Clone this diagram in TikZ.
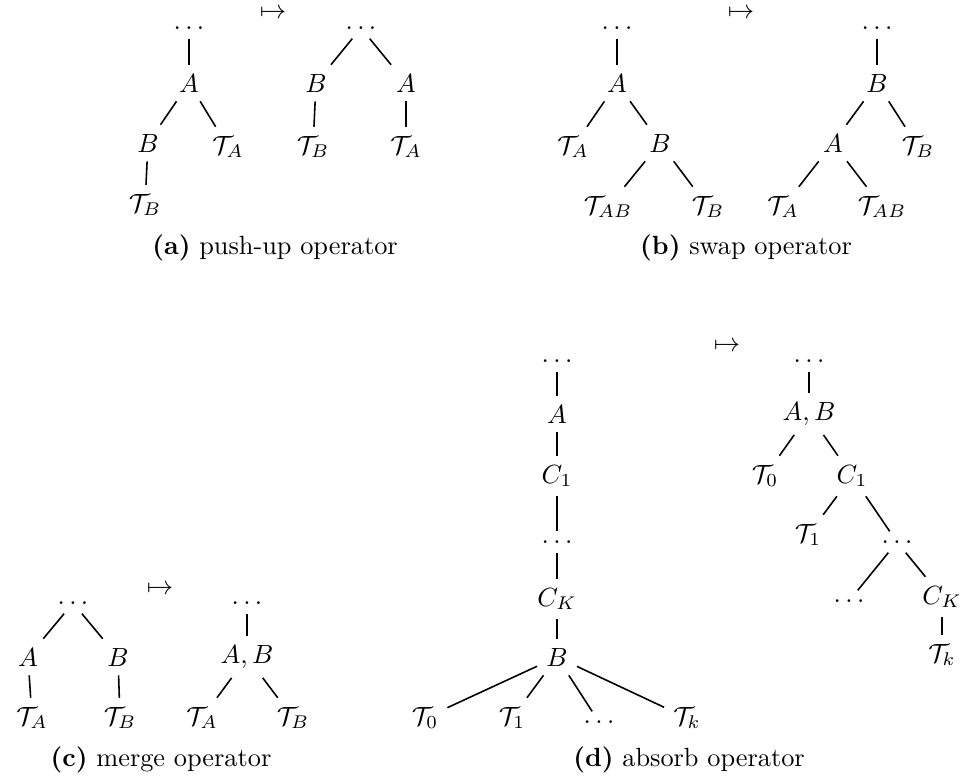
\documentclass[tikz,border=0pt]{standalone}
\tikzset{
  tn/.style={inner sep=0.3333em},
  edge/.style={line width=0.6pt},
  maparrow/.style={anchor=base, inner sep=0pt},
  captext/.style={anchor=base, inner sep=0pt}
}
\begin{document}
\begin{tikzpicture}[x=0.38pt,y=-0.38pt]
\useasboundingbox (0,0) rectangle (965,780);
% ---------- (a) push-up ----------
\node[tn] (a1) at (189,28) {$\ldots$};
\node[tn] (a2) at (189,83) {$A$};
\node[tn] (a3) at (148,143) {$B$};
\node[tn] (a4) at (228,147) {$\mathcal{T}_A$};
\node[tn] (a5) at (145,205) {$\mathcal{T}_B$};
\draw[edge] (a1) -- (a2);
\draw[edge] (a2) -- (a3);
\draw[edge] (a2) -- (a4);
\draw[edge] (a3) -- (a5);
\node[maparrow] (amap) at (273,18) {$\mapsto$};
\node[tn] (ar1) at (361,28) {$\ldots$};
\node[tn] (ar2) at (316,83) {$B$};
\node[tn] (ar3) at (406,83) {$A$};
\node[tn] (ar4) at (313,147) {$\mathcal{T}_B$};
\node[tn] (ar5) at (406,147) {$\mathcal{T}_A$};
\draw[edge] (ar1) -- (ar2);
\draw[edge] (ar1) -- (ar3);
\draw[edge] (ar2) -- (ar4);
\draw[edge] (ar3) -- (ar5);
\node[captext] (capa) at (275,254) {\textbf{(a)}~push-up operator};
% ---------- (b) swap ----------
\node[tn] (bl1) at (617,28) {$\ldots$};
\node[tn] (bl2) at (617,83) {$A$};
\node[tn] (bl3) at (573,147) {$\mathcal{T}_A$};
\node[tn] (bl4) at (660,143) {$B$};
\node[tn] (bl5) at (608,207) {$\mathcal{T}_{AB}$};
\node[tn] (bl6) at (708,207) {$\mathcal{T}_B$};
\draw[edge] (bl1) -- (bl2);
\draw[edge] (bl2) -- (bl3);
\draw[edge] (bl2) -- (bl4);
\draw[edge] (bl4) -- (bl5);
\draw[edge] (bl4) -- (bl6);
\node[maparrow] (bmap) at (741,18) {$\mapsto$};
\node[tn] (br1) at (877,28) {$\ldots$};
\node[tn] (br2) at (877,83) {$B$};
\node[tn] (br3) at (833,143) {$A$};
\node[tn] (br4) at (918,147) {$\mathcal{T}_B$};
\node[tn] (br5) at (783,207) {$\mathcal{T}_A$};
\node[tn] (br6) at (882,207) {$\mathcal{T}_{AB}$};
\draw[edge] (br1) -- (br2);
\draw[edge] (br2) -- (br3);
\draw[edge] (br2) -- (br4);
\draw[edge] (br3) -- (br5);
\draw[edge] (br3) -- (br6);
\node[captext] (capb) at (746,254) {\textbf{(b)}~swap operator};
% ---------- (c) merge ----------
\node[tn] (cl1) at (73,603) {$\ldots$};
\node[tn] (cl2) at (28,657) {$A$};
\node[tn] (cl3) at (118,657) {$B$};
\node[tn] (cl4) at (32,718) {$\mathcal{T}_A$};
\node[tn] (cl5) at (120,718) {$\mathcal{T}_B$};
\draw[edge] (cl1) -- (cl2);
\draw[edge] (cl1) -- (cl3);
\draw[edge] (cl2) -- (cl4);
\draw[edge] (cl3) -- (cl5);
\node[maparrow] (cmap) at (160,594) {$\mapsto$};
\node[tn] (cr1) at (247,603) {$\ldots$};
\node[tn] (cr2) at (247,657) {$A,B$};
\node[tn] (cr3) at (202,718) {$\mathcal{T}_A$};
\node[tn] (cr4) at (293,718) {$\mathcal{T}_B$};
\draw[edge] (cr1) -- (cr2);
\draw[edge] (cr2) -- (cr3);
\draw[edge] (cr2) -- (cr4);
\node[captext] (capc) at (161,766) {\textbf{(c)}~merge operator};
% ---------- (d) absorb ----------
\node[tn] (dl1) at (557,361) {$\ldots$};
\node[tn] (dl2) at (557,414) {$A$};
\node[tn] (dl3) at (557,476) {$C_1$};
\node[tn] (dl4) at (557,542) {$\ldots$};
\node[tn] (dl5) at (557,599) {$C_K$};
\node[tn] (dl6) at (557,657) {$B$};
\node[tn] (dl7) at (425,718) {$\mathcal{T}_0$};
\node[tn] (dl8) at (512,718) {$\mathcal{T}_1$};
\node[tn] (dl9) at (599,722) {$\ldots$};
\node[tn] (dl10) at (687,718) {$\mathcal{T}_k$};
\draw[edge] (dl1) -- (dl2);
\draw[edge] (dl2) -- (dl3);
\draw[edge] (dl3) -- (dl4);
\draw[edge] (dl4) -- (dl5);
\draw[edge] (dl5) -- (dl6);
\draw[edge] (dl6) -- (dl7);
\draw[edge] (dl6) -- (dl8);
\draw[edge] (dl6) -- (dl9);
\draw[edge] (dl6) -- (dl10);
\node[maparrow] (dmap) at (727,351) {$\mapsto$};
\node[tn] (dr1) at (809,361) {$\ldots$};
\node[tn] (dr2) at (809,414) {$A,B$};
\node[tn] (dr3) at (765,476) {$\mathcal{T}_0$};
\node[tn] (dr4) at (852,476) {$C_1$};
\node[tn] (dr5) at (808,535) {$\mathcal{T}_1$};
\node[tn] (dr6) at (897,542) {$\ldots$};
\node[tn] (dr7) at (849,601) {$\ldots$};
\node[tn] (dr8) at (942,597) {$C_K$};
\node[tn] (dr9) at (942,655) {$\mathcal{T}_k$};
\draw[edge] (dr1) -- (dr2);
\draw[edge] (dr2) -- (dr3);
\draw[edge] (dr2) -- (dr4);
\draw[edge] (dr4) -- (dr5);
\draw[edge] (dr4) -- (dr6);
\draw[edge] (dr6) -- (dr7);
\draw[edge] (dr6) -- (dr8);
\draw[edge] (dr8) -- (dr9);
\node[captext] (capd) at (689,766) {\textbf{(d)}~absorb operator};
\end{tikzpicture}
\end{document}
